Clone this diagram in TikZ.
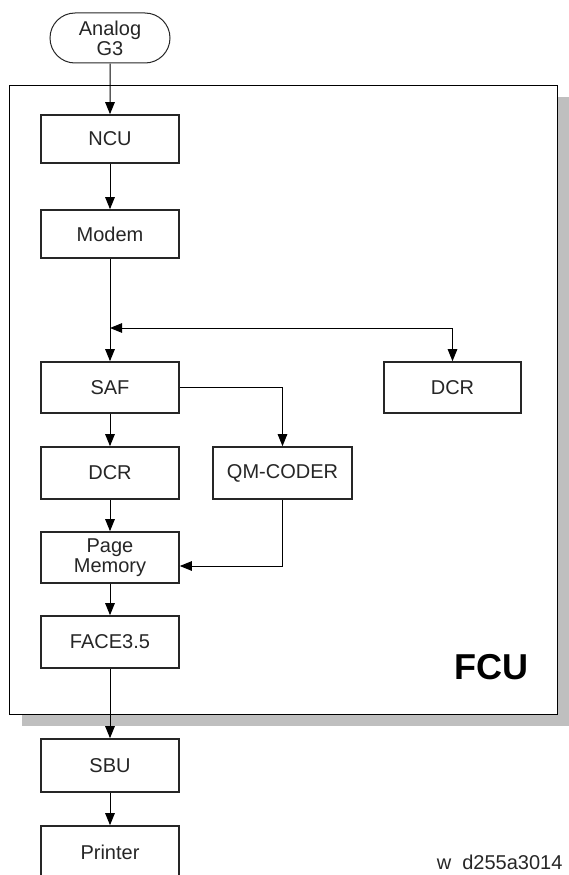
\documentclass[tikz,border=0pt]{standalone}
\usepackage{fontspec}
\setmainfont{Liberation Sans}
\usetikzlibrary{arrows.meta,shapes.misc}
\tikzset{
  blk/.style={draw=black!85, line width=1.6pt, fill=white, minimum width=138pt, minimum height=51pt, inner sep=0pt, font=\fontsize{20}{20}\selectfont, align=center, text=black!85},
  arr/.style={line width=1pt, -{Triangle[length=12pt,width=9.5pt]}},
  arrb/.style={line width=1pt, {Triangle[length=12pt,width=9.5pt]}-{Triangle[length=12pt,width=9.5pt]}},
}
\begin{document}
\begin{tikzpicture}[x=1pt,y=-1pt]
\useasboundingbox (0,0) rectangle (569,875);
% FCU frame with shadow
\fill[black!25] (22,97) rectangle (569,726);
\draw[fill=white, line width=1pt] (9,85) rectangle (557,714);
\node[font=\bfseries\fontsize{36}{36}\selectfont] (fcu) at (491,667) {FCU};
% nodes
\node[rounded rectangle, draw=black!85, line width=1pt, minimum width=120pt, minimum height=50pt, inner sep=0pt, align=center, font=\fontsize{20}{20}\selectfont, text=black!85] (an) at (110,38) {Analog\\G3};
\node[blk, minimum height=48pt] (ncu) at (110,139) {NCU};
\node[blk, minimum height=48pt] (modem) at (110,234) {Modem};
\node[blk] (saf) at (110,387.5) {SAF};
\node[blk, minimum width=137pt] (dcrb) at (452.5,387.5) {DCR};
\node[blk, minimum height=52pt] (dcr) at (110,473) {DCR};
\node[blk, minimum width=139pt, minimum height=52pt] (qm) at (282.5,473) {QM-CODER};
\node[blk] (pm) at (110,557.5) {Page\\Memory};
\node[blk, minimum height=52pt] (face) at (110,642) {FACE3.5};
\node[blk, minimum height=53pt] (sbu) at (110,765.5) {SBU};
\node[blk, minimum height=53pt] (prn) at (110,852.5) {Printer};
\node[anchor=base east, font=\fontsize{20}{20}\selectfont, text=black!85] (lbl) at (566,869) {w\ \ d255a3014};
% connectors
\coordinate (j) at (110,328);
\draw[arr] (an) -- (ncu);
\draw[arr] (ncu) -- (modem);
\draw[arr] (modem) -- (saf);
\draw[arrb] (j) -| (dcrb.north);
\draw[arr] (saf.east) -| (qm.north);
\draw[arr] (saf) -- (dcr);
\draw[arr] (dcr) -- (pm);
\draw[arr] (qm.south) |- ([yshift=-8.5pt]pm.east);
\draw[arr] (pm) -- (face);
\draw[arr] (face) -- (sbu);
\draw[arr] (sbu) -- (prn);
\end{tikzpicture}
\end{document}
